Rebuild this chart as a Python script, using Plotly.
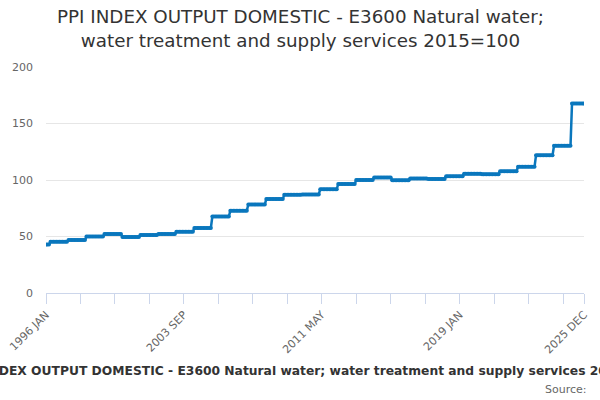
import plotly.graph_objects as go

# Monthly values, one row per calendar year (Jan..Dec), 1996-2025
years = list(range(1996, 2026))
months = ["JAN", "FEB", "MAR", "APR", "MAY", "JUN", "JUL", "AUG", "SEP", "OCT", "NOV", "DEC"]
values_by_year = [
    [43.0, 43.0, 43.0, 45.4, 45.4, 45.4, 45.4, 45.4, 45.4, 45.4, 45.4, 45.4],  # 1996
    [45.4, 45.4, 45.4, 46.9, 46.9, 46.9, 46.9, 46.9, 46.9, 46.9, 46.9, 46.9],  # 1997
    [46.9, 46.9, 46.9, 49.9, 49.9, 49.9, 49.9, 49.9, 49.9, 49.9, 49.9, 49.9],  # 1998
    [49.9, 49.9, 49.9, 52.2, 52.2, 52.2, 52.2, 52.2, 52.2, 52.2, 52.2, 52.2],  # 1999
    [52.2, 52.2, 52.2, 49.6, 49.6, 49.6, 49.6, 49.6, 49.6, 49.6, 49.6, 49.6],  # 2000
    [49.6, 49.6, 49.6, 51.3, 51.3, 51.3, 51.3, 51.3, 51.3, 51.3, 51.3, 51.3],  # 2001
    [51.3, 51.3, 51.3, 52.2, 52.2, 52.2, 52.2, 52.2, 52.2, 52.2, 52.2, 52.2],  # 2002
    [52.2, 52.2, 52.2, 54.3, 54.3, 54.3, 54.3, 54.3, 54.3, 54.3, 54.3, 54.3],  # 2003
    [54.3, 54.3, 54.3, 57.6, 57.6, 57.6, 57.6, 57.6, 57.6, 57.6, 57.6, 57.6],  # 2004
    [57.6, 57.6, 57.6, 67.7, 67.7, 67.7, 67.7, 67.7, 67.7, 67.7, 67.7, 67.7],  # 2005
    [67.7, 67.7, 67.7, 72.7, 72.7, 72.7, 72.7, 72.7, 72.7, 72.7, 72.7, 72.7],  # 2006
    [72.7, 72.7, 72.7, 78.3, 78.3, 78.3, 78.3, 78.3, 78.3, 78.3, 78.3, 78.3],  # 2007
    [78.3, 78.3, 78.3, 83.1, 83.1, 83.1, 83.1, 83.1, 83.1, 83.1, 83.1, 83.1],  # 2008
    [83.1, 83.1, 83.1, 87.0, 87.0, 87.0, 87.0, 87.0, 87.0, 87.0, 87.0, 87.0],  # 2009
    [87.0, 87.0, 87.0, 87.2, 87.2, 87.2, 87.2, 87.2, 87.2, 87.2, 87.2, 87.2],  # 2010
    [87.2, 87.2, 87.2, 91.8, 91.8, 91.8, 91.8, 91.8, 91.8, 91.8, 91.8, 91.8],  # 2011
    [91.8, 91.8, 91.8, 96.5, 96.5, 96.5, 96.5, 96.5, 96.5, 96.5, 96.5, 96.5],  # 2012
    [96.5, 96.5, 96.5, 100.0, 100.0, 100.0, 100.0, 100.0, 100.0, 100.0, 100.0, 100.0],  # 2013
    [100.0, 100.0, 100.0, 102.2, 102.2, 102.2, 102.2, 102.2, 102.2, 102.2, 102.2, 102.2],  # 2014
    [102.2, 102.2, 102.2, 99.8, 99.8, 99.8, 99.8, 99.8, 99.8, 99.8, 99.8, 99.8],  # 2015
    [99.8, 99.8, 99.8, 101.4, 101.4, 101.4, 101.4, 101.4, 101.4, 101.4, 101.4, 101.4],  # 2016
    [101.4, 101.4, 101.4, 100.9, 100.9, 100.9, 100.9, 100.9, 100.9, 100.9, 100.9, 100.9],  # 2017
    [100.9, 100.9, 100.9, 103.4, 103.4, 103.4, 103.4, 103.4, 103.4, 103.4, 103.4, 103.4],  # 2018
    [103.4, 103.4, 103.4, 105.6, 105.6, 105.6, 105.6, 105.6, 105.6, 105.6, 105.6, 105.6],  # 2019
    [105.6, 105.6, 105.6, 105.0, 105.0, 105.0, 105.0, 105.0, 105.0, 105.0, 105.0, 105.0],  # 2020
    [105.0, 105.0, 105.0, 107.8, 107.8, 107.8, 107.8, 107.8, 107.8, 107.8, 107.8, 107.8],  # 2021
    [107.8, 107.8, 107.8, 111.8, 111.8, 111.8, 111.8, 111.8, 111.8, 111.8, 111.8, 111.8],  # 2022
    [111.8, 111.8, 111.8, 122.0, 122.0, 122.0, 122.0, 122.0, 122.0, 122.0, 122.0, 122.0],  # 2023
    [122.0, 122.0, 122.0, 130.3, 130.3, 130.3, 130.3, 130.3, 130.3, 130.3, 130.3, 130.3],  # 2024
    [130.3, 130.3, 130.3, 167.6, 167.6, 167.6, 167.6, 167.6, 167.6, 167.6, 167.6, 167.6],  # 2025
]
y_ticks = [0, 50, 100, 150, 200]
labelled_ticks = ["1996 JAN", "2003 SEP", "2011 MAY", "2019 JAN", "2025 DEC"]

categories = [f"{y} {m}" for y in years for m in months]
values = [v for row in values_by_year for v in row]
idx = list(range(len(categories)))

# tick marks every 23 months plus the last one
tick_idx = list(range(0, len(categories), 23))
if tick_idx[-1] != len(categories) - 1:
    tick_idx.append(len(categories) - 1)
tick_text = [categories[i] if categories[i] in labelled_ticks else "" for i in tick_idx]

title_text = "PPI INDEX OUTPUT DOMESTIC - E3600 Natural water; water treatment and supply services 2015=100"
color = "#0a77bd"
font = "DejaVu Sans, Verdana, sans-serif"

L, R, T, B = 46, 584, 67, 293
pw, ph = R - L, B - T

def px(x):
    return (x - L) / pw

def py(y):
    return (B - y) / ph

fig = go.Figure()
fig.add_trace(go.Scatter(
    x=idx, y=values, mode="lines+markers",
    line=dict(color=color, width=2.5),
    marker=dict(color=color, size=4, line=dict(width=0)),
    text=categories, hovertemplate="%{text}: %{y}<extra></extra>",
))

fig.update_layout(
    width=600, height=400,
    margin=dict(l=L, r=600 - R, t=T, b=400 - B, autoexpand=False),
    paper_bgcolor="white", plot_bgcolor="white",
    showlegend=False,
    font=dict(family=font, color="#666666", size=11),
    xaxis=dict(
        range=[0, len(categories) - 1], automargin=False,
        tickmode="array", tickvals=tick_idx, ticktext=tick_text,
        tickangle=-45, ticks="outside", ticklen=10, tickcolor="#ccd6eb",
        showline=True, linecolor="#ccd6eb", linewidth=1,
        showgrid=False, zeroline=False,
        tickfont=dict(size=11, color="#666666"),
    ),
    yaxis=dict(
        range=[0, 200], tickmode="array", tickvals=y_ticks, automargin=False,
        showgrid=True, gridcolor="#e6e6e6", zeroline=False,
        showline=False, ticks="", ticklabelstandoff=12,
        tickfont=dict(size=11, color="#666666"),
    ),
    annotations=[
        dict(text="PPI INDEX OUTPUT DOMESTIC - E3600 Natural water;<br>water treatment and supply services 2015=100",
             xref="paper", yref="paper", x=px(300), y=py(28.5),
             xanchor="center", yanchor="middle", showarrow=False,
             font=dict(family=font, size=18.3, color="#333333")),
        dict(text="<b>" + title_text + "</b>", xref="paper", yref="paper",
             x=px(308), y=py(371), xanchor="center", yanchor="middle",
             showarrow=False, font=dict(family=font, size=12.3, color="#333333")),
        dict(text="Source:", xref="paper", yref="paper",
             x=px(589), y=py(389), xanchor="right", yanchor="middle",
             showarrow=False, font=dict(family=font, size=11, color="#666666")),
    ],
)

fig.write_html("out.html", config={"displayModeBar": False},
               post_script="document.body.style.margin='0px';")
